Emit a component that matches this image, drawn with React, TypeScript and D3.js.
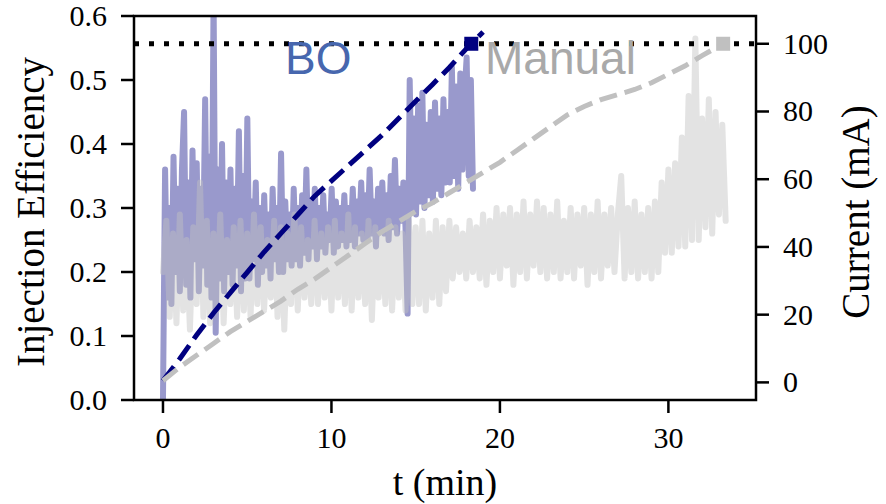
import React from 'react';
import * as d3 from 'd3';

// injection efficiency, sampled evenly over each run
const boEfficiency = [
  0.00, 0.36, 0.16, 0.30, 0.15, 0.38, 0.20, 0.33,
  0.17, 0.36, 0.45, 0.18, 0.34, 0.16, 0.39, 0.22,
  0.37, 0.17, 0.33, 0.21, 0.47, 0.18, 0.38, 0.16,
  0.63, 0.105, 0.36, 0.19, 0.40, 0.17, 0.34, 0.20,
  0.36, 0.18, 0.33, 0.21, 0.42, 0.17, 0.35, 0.19,
  0.44, 0.19, 0.31, 0.22, 0.34, 0.18, 0.30, 0.20,
  0.32, 0.21, 0.29, 0.19, 0.33, 0.22, 0.30, 0.20,
  0.385, 0.20, 0.31, 0.22, 0.29, 0.21, 0.33, 0.22,
  0.30, 0.21, 0.32, 0.23, 0.36, 0.22, 0.31, 0.24,
  0.33, 0.22, 0.30, 0.24, 0.32, 0.23, 0.29, 0.25,
  0.33, 0.23, 0.31, 0.24, 0.30, 0.25, 0.32, 0.24,
  0.30, 0.25, 0.33, 0.24, 0.31, 0.26, 0.34, 0.25,
  0.32, 0.25, 0.36, 0.26, 0.31, 0.24, 0.33, 0.27,
  0.34, 0.26, 0.32, 0.25, 0.35, 0.27, 0.375, 0.26,
  0.33, 0.28, 0.34, 0.27, 0.135, 0.50, 0.30, 0.44,
  0.29, 0.46, 0.31, 0.48, 0.30, 0.43, 0.32, 0.45,
  0.31, 0.465, 0.33, 0.44, 0.32, 0.47, 0.34, 0.45,
  0.34, 0.52, 0.35, 0.49, 0.33, 0.51, 0.36, 0.48,
  0.535, 0.35, 0.50, 0.33,
];
const boDuration = 18.4;

const manualEfficiency = [
  0.20, 0.28, 0.13, 0.26, 0.12,
  0.29, 0.14, 0.25, 0.11, 0.27,
  0.15, 0.34, 0.13, 0.28, 0.12,
  0.26, 0.14, 0.29, 0.12, 0.25,
  0.15, 0.27, 0.13, 0.28, 0.14,
  0.26, 0.13, 0.29, 0.15, 0.27,
  0.14, 0.25, 0.16, 0.28, 0.13,
  0.27, 0.11, 0.26, 0.15, 0.29,
  0.14, 0.27, 0.16, 0.25, 0.15,
  0.28, 0.15, 0.26, 0.16, 0.27,
  0.14, 0.28, 0.16, 0.26, 0.15,
  0.29, 0.14, 0.27, 0.16, 0.26,
  0.15, 0.28, 0.125, 0.27, 0.16,
  0.26, 0.15, 0.28, 0.14, 0.27,
  0.16, 0.26, 0.14, 0.28, 0.15,
  0.27, 0.15, 0.28, 0.14, 0.26,
  0.16, 0.28, 0.15, 0.27, 0.17,
  0.28, 0.19, 0.27, 0.20, 0.26,
  0.19, 0.28, 0.20, 0.27, 0.19,
  0.29, 0.18, 0.28, 0.20, 0.30,
  0.19, 0.29, 0.21, 0.30, 0.18,
  0.29, 0.20, 0.31, 0.19, 0.29,
  0.21, 0.31, 0.20, 0.30, 0.19,
  0.29, 0.20, 0.31, 0.19, 0.28,
  0.20, 0.30, 0.19, 0.29, 0.21,
  0.30, 0.18, 0.29, 0.20, 0.31,
  0.19, 0.29, 0.21, 0.30, 0.20,
  0.29, 0.35, 0.19, 0.30, 0.20,
  0.31, 0.19, 0.29, 0.20, 0.30,
  0.19, 0.31, 0.20, 0.34, 0.23,
  0.36, 0.23, 0.37, 0.24, 0.41,
  0.24, 0.475, 0.25, 0.565, 0.25,
  0.44, 0.27, 0.47, 0.26, 0.45,
  0.29, 0.43, 0.28,
];
const manualDuration = 33.4;

// stored current (mA) vs time (min)
const boCurrentTime = [0, 1, 2, 3, 4, 5, 6, 7, 8, 9, 10, 11, 12, 13, 14, 15, 16, 17, 18, 18.3, 19];
const boCurrent = [0.5, 7, 14, 20.5, 26.5, 32.5, 38.5, 44, 49.5, 55, 59.5, 64, 68.5, 73, 78, 83, 88, 93, 98.5, 100, 103.5];
const manualCurrentTime = [0, 1, 2, 3, 4, 5, 6, 7, 8, 9, 10, 11, 12, 13, 14, 15, 16, 17, 18, 19, 20, 21, 22, 23, 24, 25, 26, 27, 28, 29, 30, 31, 32, 33.25];
const manualCurrent = [0.5, 4.5, 8, 11.5, 15, 18, 21, 24, 27.5, 30.5, 34, 37.5, 41, 44.5, 47.5, 50.5, 53, 56, 59, 62, 65, 68.5, 72, 75.5, 79, 81.5, 83.5, 85, 86.5, 88.5, 91, 93.5, 96.5, 100];

const targetCurrent = 100;
const boFinish = 18.3;
const manualFinish = 33.25;

const xTicks = [0, 10, 20, 30];
const effTicks = [0, 0.1, 0.2, 0.3, 0.4, 0.5, 0.6];
const currentTicks = [0, 20, 40, 60, 80, 100];

const W = 886, H = 504;
const left = 134, right = 756, top = 16, bottom = 400;
const serif = '"Liberation Serif", "Times New Roman", "DejaVu Serif", serif';
const sans = '"Liberation Sans", Arial, "DejaVu Sans", sans-serif';

export default function App() {
  const x = d3.scaleLinear().domain([-1.72, 35.2]).range([left, right]);
  const yEff = d3.scaleLinear().domain([0, 0.6]).range([bottom, top]);
  const yCur = d3.scaleLinear().domain([-5.2, 108.2]).range([bottom, top]);

  const effLine = d3.line<[number, number]>()
    .x((d) => x(d[0]))
    .y((d) => yEff(d[1]));
  const curLine = d3.line<[number, number]>()
    .x((d) => x(d[0]))
    .y((d) => yCur(d[1]));

  const boPts = boEfficiency.map((v, i) => [i * boDuration / (boEfficiency.length - 1), v] as [number, number]);
  const manPts = manualEfficiency.map((v, i) => [i * manualDuration / (manualEfficiency.length - 1), v] as [number, number]);
  const boCur = boCurrentTime.map((t, i) => [t, boCurrent[i]] as [number, number]);
  const manCur = manualCurrentTime.map((t, i) => [t, manualCurrent[i]] as [number, number]);

  const tick = 13;
  const mk = 14;
  const midY = 212;

  return (
    <svg width={W} height={H} style={{ position: 'absolute', left: 0, top: 0, background: 'white' }}>
      <defs>
        <clipPath id="plot">
          <rect x={left} y={top} width={right - left} height={bottom - top} />
        </clipPath>
      </defs>

      <g clipPath="url(#plot)">
        <path d={effLine(boPts) || ''} fill="none" stroke="#000080" strokeOpacity={0.4}
          strokeWidth={6} strokeLinejoin="round" strokeLinecap="round" />
        <path d={effLine(manPts) || ''} fill="none" stroke="#c0c0c0" strokeOpacity={0.45}
          strokeWidth={6} strokeLinejoin="round" strokeLinecap="round" />
        <line x1={left} x2={right} y1={yCur(targetCurrent)} y2={yCur(targetCurrent)}
          stroke="black" strokeWidth={5} strokeDasharray="5 10" />
        <path d={curLine(boCur) || ''} fill="none" stroke="#000080" strokeWidth={5} strokeDasharray="18 8" />
        <path d={curLine(manCur) || ''} fill="none" stroke="#c0c0c0" strokeWidth={5} strokeDasharray="18 8" />
        <rect x={x(boFinish) - mk / 2} y={yCur(targetCurrent) - mk / 2} width={mk} height={mk} fill="#000080" />
        <rect x={x(manualFinish) - mk / 2} y={yCur(targetCurrent) - mk / 2} width={mk} height={mk} fill="#c0c0c0" />
      </g>

      <text x={285} y={74} fontFamily={sans} fontSize={46} fill="#4767ae">BO</text>
      <text x={485} y={74} fontFamily={sans} fontSize={46} fill="#a9a9a9">Manual</text>

      {/* spines */}
      <rect x={left} y={top} width={right - left} height={bottom - top} fill="none" stroke="black" strokeWidth={2.5} />

      {/* x axis */}
      {xTicks.map((t) => (
        <g key={`x${t}`}>
          <line x1={x(t)} x2={x(t)} y1={bottom} y2={bottom + tick} stroke="black" strokeWidth={2.5} />
          <text x={x(t)} y={448} textAnchor="middle" fontFamily={serif} fontSize={30}>{t}</text>
        </g>
      ))}
      <text x={(left + right) / 2} y={495} textAnchor="middle" fontFamily={serif} fontSize={38}>t (min)</text>

      {/* left axis */}
      {effTicks.map((v) => (
        <g key={`l${v}`}>
          <line x1={left - tick} x2={left} y1={yEff(v)} y2={yEff(v)} stroke="black" strokeWidth={2.5} />
          <text x={107} y={yEff(v) + 10} textAnchor="end" fontFamily={serif} fontSize={30}>{v.toFixed(1)}</text>
        </g>
      ))}
      <text transform={`translate(44,${midY}) rotate(-90)`} textAnchor="middle"
        fontFamily={serif} fontSize={39}>Injection Efficiency</text>

      {/* right axis */}
      {currentTicks.map((v) => (
        <g key={`r${v}`}>
          <line x1={right} x2={right + tick} y1={yCur(v)} y2={yCur(v)} stroke="black" strokeWidth={2.5} />
          <text x={783} y={yCur(v) + 10} textAnchor="start" fontFamily={serif} fontSize={30}>{v}</text>
        </g>
      ))}
      <text transform={`translate(869,${midY}) rotate(-90)`} textAnchor="middle"
        fontFamily={serif} fontSize={39}>Current (mA)</text>
    </svg>
  );
}
